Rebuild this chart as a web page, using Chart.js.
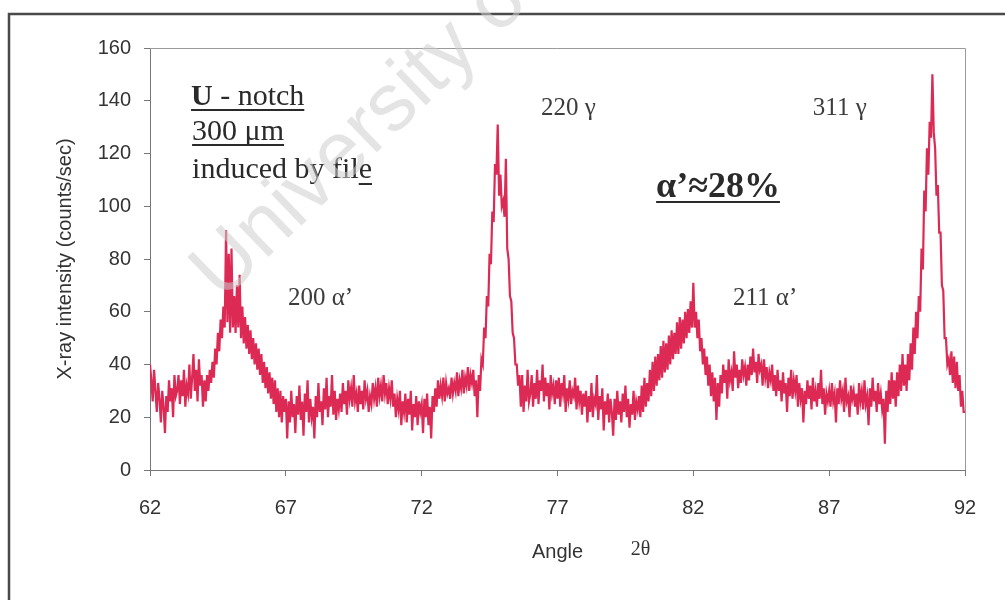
<!DOCTYPE html>
<html>
<head>
<meta charset="utf-8">
<script src="https://cdn.jsdelivr.net/npm/chart.js@4"></script>
<style>
  html, body { margin: 0; background: #fff; }
  #wrap { width: 1005px; height: 600px; }
</style>
</head>
<body>
<div id="wrap"><canvas id="xrd"></canvas></div>
<script>
// scan: 2-theta from 62 to 92 deg, one reading every 0.05 deg
const ANGLE_START = 62;
const ANGLE_STEP = 0.05;
const angleTicks = [62, 67, 72, 77, 82, 87, 92];
const countTicks = [0, 20, 40, 60, 80, 100, 120, 140, 160];

// counts/sec, one row per whole degree (row 0 starts at 62.00)
const scanRows = [
  [40, 34, 26, 38, 30, 22, 33, 27, 18, 30, 24, 14, 28, 22, 34, 26, 31, 20, 36, 28],          // 62
  [30, 36, 25, 34, 28, 38, 24, 32, 29, 40, 27, 35, 44, 30, 38, 26, 42, 32, 36, 24],          // 63
  [34, 26, 36, 30, 38, 33, 41, 35, 46, 40, 52, 45, 57, 50, 62, 54, 91, 56, 82, 52],          // 64
  [84, 54, 66, 52, 70, 54, 74, 50, 62, 48, 58, 46, 55, 44, 53, 42, 50, 40, 48, 38],          // 65
  [46, 36, 44, 33, 41, 31, 39, 29, 37, 27, 35, 25, 34, 22, 31, 20, 30, 18, 28, 22],          // 66
  [27, 12, 26, 18, 30, 20, 25, 14, 28, 21, 32, 19, 26, 13, 29, 22, 34, 18, 27, 20],          // 67
  [24, 12, 28, 20, 33, 22, 26, 17, 31, 23, 35, 20, 28, 24, 36, 21, 30, 19, 27, 23],          // 68
  [29, 22, 33, 25, 30, 21, 34, 27, 31, 24, 36, 26, 29, 22, 32, 25, 30, 23, 34, 27],          // 69
  [30, 22, 28, 25, 33, 27, 31, 24, 35, 28, 32, 26, 36, 29, 33, 25, 31, 27, 34, 24],          // 70
  [29, 20, 27, 23, 30, 17, 26, 22, 29, 18, 27, 21, 30, 15, 25, 20, 28, 17, 26, 22],          // 71
  [25, 14, 27, 20, 29, 17, 24, 12, 28, 22, 31, 24, 34, 27, 32, 28, 35, 26, 33, 29],          // 72
  [31, 27, 35, 29, 33, 30, 37, 28, 34, 31, 38, 29, 35, 32, 39, 30, 36, 33, 38, 28],          // 73
  [34, 20, 36, 30, 42, 40, 54, 50, 66, 62, 82, 78, 98, 94, 116, 112, 131, 104, 112, 100],    // 74
  [102, 96, 118, 84, 80, 66, 64, 52, 50, 40, 40, 32, 36, 24, 36, 22, 32, 26, 38, 26],        // 75
  [29, 36, 24, 33, 27, 38, 25, 34, 30, 40, 26, 35, 28, 33, 23, 36, 29, 32, 25, 34],          // 76
  [27, 35, 24, 33, 29, 36, 22, 31, 27, 34, 25, 30, 28, 35, 23, 32, 26, 30, 21, 29],          // 77
  [24, 30, 18, 28, 22, 33, 20, 27, 25, 36, 19, 28, 23, 31, 15, 26, 21, 29, 18, 27],          // 78
  [22, 13, 27, 19, 30, 21, 26, 18, 29, 22, 32, 20, 27, 16, 25, 21, 30, 19, 26, 23],          // 79
  [28, 20, 32, 22, 35, 24, 33, 26, 38, 28, 41, 30, 43, 32, 44, 34, 47, 35, 49, 37],          // 80
  [48, 38, 51, 40, 53, 42, 52, 44, 56, 44, 58, 46, 57, 48, 60, 50, 61, 52, 64, 54],          // 81
  [71, 54, 60, 50, 57, 45, 50, 40, 46, 36, 43, 32, 40, 28, 37, 26, 35, 19, 33, 24],          // 82
  [36, 29, 40, 33, 38, 27, 42, 34, 37, 30, 45, 35, 40, 31, 38, 33, 42, 36, 39, 32],          // 83
  [40, 34, 43, 36, 46, 37, 41, 33, 44, 38, 40, 32, 42, 35, 39, 31, 37, 34, 40, 30],          // 84
  [36, 28, 38, 30, 34, 26, 37, 29, 33, 22, 35, 28, 38, 27, 34, 30, 36, 24, 33, 27],          // 85
  [31, 18, 30, 25, 34, 27, 32, 23, 35, 26, 30, 24, 33, 27, 38, 25, 31, 21, 29, 26],          // 86
  [30, 24, 33, 26, 29, 18, 31, 25, 34, 27, 30, 22, 35, 26, 28, 20, 32, 27, 30, 24],          // 87
  [29, 21, 33, 26, 30, 23, 34, 25, 28, 17, 31, 24, 35, 26, 30, 22, 33, 25, 29, 23],          // 88
  [27, 10, 30, 22, 34, 25, 37, 27, 34, 24, 37, 28, 40, 30, 44, 32, 40, 30, 44, 34],          // 89
  [48, 38, 54, 44, 60, 50, 66, 60, 84, 76, 106, 98, 122, 112, 132, 126, 150, 128, 122, 104], // 90
  [108, 90, 90, 70, 68, 50, 50, 40, 42, 36, 45, 33, 43, 31, 41, 30, 36, 24, 30, 22],         // 91
  [22]                                                                                       // 92
];

const points = scanRows.flatMap((row, r) => row.map((v, j) => ({
  x: +(ANGLE_START + r + j * ANGLE_STEP).toFixed(2),
  y: v
})));

const SANS = '"Liberation Sans", Arial, sans-serif';
const SERIF = '"Liberation Serif", "Times New Roman", serif';

// peak labels and notes, placed in data units
const notes = [
  { text: '300 μm', x: 63.55, y: 125.1, font: '30px ' + SERIF, color: '#2a2a2a', under: 'all' },
  { text: 'induced by file', x: 63.55, y: 110.7, font: '30px ' + SERIF, color: '#2a2a2a', under: 'last' },
  { text: '220 γ', x: 76.39, y: 134.6, font: '25px ' + SERIF, color: '#3c3c3c' },
  { text: '311 γ', x: 86.40, y: 134.6, font: '25px ' + SERIF, color: '#3c3c3c' },
  { text: '200 α’', x: 67.08, y: 62.6, font: '25px ' + SERIF, color: '#3c3c3c' },
  { text: '211 α’', x: 83.46, y: 62.6, font: '25px ' + SERIF, color: '#3c3c3c' },
  { text: 'α’≈28%', x: 80.63, y: 103.5, font: 'bold 36px ' + SERIF, color: '#2a2a2a', under: 'all' }
];

function underline(ctx, x0, x1, y, color) {
  ctx.save();
  ctx.strokeStyle = color;
  ctx.lineWidth = 2;
  ctx.beginPath();
  ctx.moveTo(x0, y);
  ctx.lineTo(x1, y);
  ctx.stroke();
  ctx.restore();
}

const decor = {
  id: 'decor',
  beforeDraw(chart) {
    const ctx = chart.ctx;
    ctx.save();
    ctx.strokeStyle = '#4a4a4a';
    ctx.lineWidth = 2.5;
    ctx.beginPath();
    ctx.moveTo(9, chart.height);
    ctx.lineTo(9, 14);
    ctx.lineTo(chart.width, 14);
    ctx.stroke();
    ctx.restore();
  },
  afterDatasetsDraw(chart) {
    const { ctx, chartArea: a, scales } = chart;
    ctx.save();
    ctx.strokeStyle = '#9a9a9a';
    ctx.lineWidth = 1;
    ctx.beginPath();
    ctx.moveTo(a.left, a.top + 0.5);
    ctx.lineTo(a.right + 0.5, a.top + 0.5);
    ctx.lineTo(a.right + 0.5, a.bottom);
    ctx.stroke();

    ctx.textBaseline = 'alphabetic';
    ctx.textAlign = 'left';

    // "U - notch" heading, U set heavier
    const hx = scales.x.getPixelForValue(63.51);
    const hy = scales.y.getPixelForValue(138.4);
    ctx.fillStyle = '#2a2a2a';
    ctx.font = 'bold 30px ' + SERIF;
    ctx.fillText('U', hx, hy);
    const uw = ctx.measureText('U').width;
    ctx.font = '30px ' + SERIF;
    ctx.fillText(' - notch', hx + uw, hy);
    const hw = uw + ctx.measureText(' - notch').width;
    underline(ctx, hx, hx + hw, hy + 5, '#2a2a2a');

    notes.forEach(n => {
      const px = scales.x.getPixelForValue(n.x);
      const py = scales.y.getPixelForValue(n.y);
      ctx.font = n.font;
      ctx.fillStyle = n.color;
      ctx.fillText(n.text, px, py);
      const w = ctx.measureText(n.text).width;
      if (n.under === 'all') {
        underline(ctx, px, px + w, py + 5, n.color);
      } else if (n.under === 'last') {
        const w0 = ctx.measureText(n.text.slice(0, -1)).width;
        underline(ctx, px + w0, px + w, py + 6, n.color);
      }
    });

    // 2θ next to the axis title
    ctx.font = '20px ' + SERIF;
    ctx.fillStyle = '#333';
    ctx.fillText('2θ', scales.x.getPixelForValue(79.7), chart.height - 45);
    ctx.restore();
  },
  afterDraw(chart) {
    const ctx = chart.ctx;
    ctx.save();
    ctx.translate(222, 302);
    ctx.rotate(-44 * Math.PI / 180);
    ctx.font = '82px ' + SANS;
    ctx.fillStyle = 'rgba(205, 205, 205, 0.55)';
    ctx.textBaseline = 'alphabetic';
    ctx.fillText('University of Cape Town', 0, 0);
    ctx.restore();
  }
};

const axisFont = { family: SANS, size: 20 };

new Chart(document.getElementById('xrd'), {
  type: 'line',
  data: {
    datasets: [{
      data: points,
      borderColor: '#dc2a55',
      borderWidth: 2.2,
      pointRadius: 0,
      tension: 0
    }]
  },
  options: {
    responsive: true,
    maintainAspectRatio: false,
    animation: false,
    layout: { padding: { top: 48, right: 40, left: 0, bottom: 0 } },
    plugins: {
      legend: { display: false },
      tooltip: { enabled: false }
    },
    scales: {
      x: {
        type: 'linear',
        min: 62,
        max: 92,
        afterBuildTicks: s => { s.ticks = angleTicks.map(v => ({ value: v })); },
        afterFit: s => { s.height = 130; },
        ticks: { color: '#333', font: axisFont, padding: 20 },
        grid: { drawOnChartArea: false, tickLength: 6, color: '#777' },
        border: { color: '#777', width: 1 },
        title: {
          display: true,
          text: 'Angle',
          color: '#333',
          font: axisFont,
          padding: { top: 0, bottom: 36 }
        }
      },
      y: {
        min: 0,
        max: 160,
        afterBuildTicks: s => { s.ticks = countTicks.map(v => ({ value: v })); },
        afterFit: s => { s.width = 150; },
        ticks: { color: '#333', font: axisFont, padding: 13 },
        grid: { drawOnChartArea: false, tickLength: 6, color: '#777' },
        border: { color: '#777', width: 1 },
        title: {
          display: true,
          text: 'X-ray intensity (counts/sec)',
          color: '#333',
          font: axisFont,
          padding: { top: 53, bottom: 0 }
        }
      }
    }
  },
  plugins: [decor]
});
</script>
</body>
</html>
